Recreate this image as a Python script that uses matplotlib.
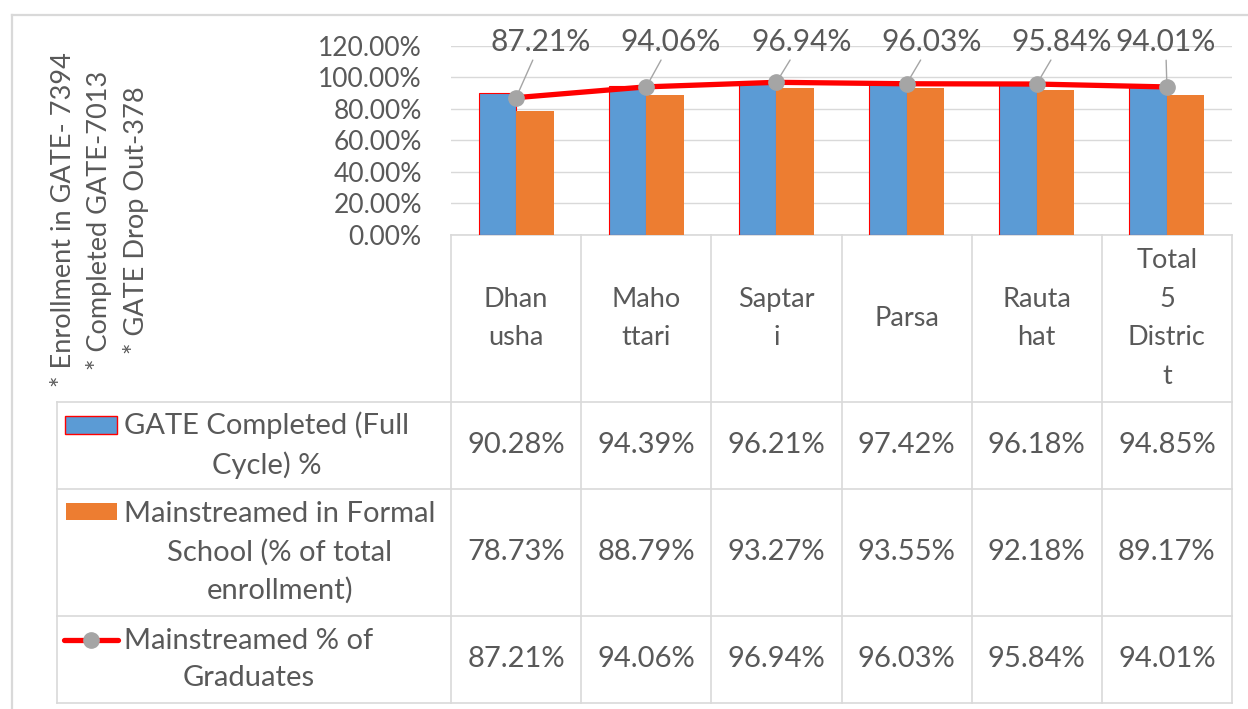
"""
GATE completion / mainstreaming chart with data table (Excel style).
"""
import numpy as np
import matplotlib.pyplot as plt
from matplotlib.transforms import blended_transform_factory
from matplotlib.patches import Rectangle
from matplotlib.lines import Line2D

# Data
districts = ['Dhan\nusha', 'Maho\nttari', 'Saptar\ni', 'Parsa', 'Rauta\nhat', 'Total\n5\nDistric\nt']
gate_completed = [90.28, 94.39, 96.21, 97.42, 96.18, 94.85]
mainstreamed_formal = [78.73, 88.79, 93.27, 93.55, 92.18, 89.17]
mainstreamed_grads = [87.21, 94.06, 96.94, 96.03, 95.84, 94.01]
series_names = ['GATE Completed (Full\nCycle) %',
                'Mainstreamed in Formal\nSchool (% of total\nenrollment)',
                'Mainstreamed % of\nGraduates']
side_notes = ['* Enrollment in GATE- 7394', '* Completed GATE-7013', '* GATE Drop Out-378']
y_ticks = [0, 20, 40, 60, 80, 100, 120]

BLUE, ORANGE, RED, GREY = '#5B9BD5', '#ED7D31', '#FF0000', '#A5A5A5'
TXT, GRID = '#595959', '#D9D9D9'

plt.rcParams['font.family'] = ['Lato', 'DejaVu Sans']

# layout in pixels
W, H = 1248, 709
TABLE_L, PLOT_L, PLOT_R = 57, 451, 1232
PLOT_TOP, PLOT_BOT = 46, 235
row_edges = [401.7, 488.7, 616, 702.7]

fig = plt.figure(figsize=(W / 100, H / 100), dpi=100)

# overlay axes in pixel coords for the table and frame
lay = fig.add_axes([0, 0, 1, 1])
lay.set_xlim(0, W)
lay.set_ylim(H, 0)
lay.axis('off')

ax = fig.add_axes([PLOT_L / W, 1 - PLOT_BOT / H, (PLOT_R - PLOT_L) / W, (PLOT_BOT - PLOT_TOP) / H])
ax.set_facecolor('none')

x = np.arange(len(districts))
bw = 0.288
ax.bar(x - bw / 2, gate_completed, bw, color=BLUE, edgecolor=RED, linewidth=0.8, zorder=2)
ax.bar(x + bw / 2, mainstreamed_formal, bw, color=ORANGE, linewidth=0, zorder=2)
ax.plot(x, mainstreamed_grads, color=RED, lw=3.8, marker='o', ms=11,
        mfc=GREY, mec=GREY, zorder=5, solid_capstyle='round')

ax.set_xlim(-0.5, len(districts) - 0.5)
ax.set_ylim(0, 120)
ax.set_yticks(y_ticks)
ax.set_yticklabels([f'{v:.2f}%' for v in y_ticks])
ax.tick_params(axis='y', length=0, pad=21, labelsize=19, labelcolor=TXT)
ax.set_xticks([])
ax.yaxis.grid(True, color=GRID, lw=1)
ax.set_axisbelow(True)
for s in ax.spines.values():
    s.set_visible(False)

# data labels with leader lines
for i, v in enumerate(mainstreamed_grads):
    dx = 0.19 if i < len(mainstreamed_grads) - 1 else -0.01
    ax.annotate(f'{v:.2f}%', xy=(i, v), xytext=(i + dx, 122.5), ha='center', va='center',
                fontsize=21.5, color=TXT, annotation_clip=False, zorder=4,
                arrowprops=dict(arrowstyle='-', color=GREY, lw=1, shrinkA=1, shrinkB=0))

# data table
bt = blended_transform_factory(ax.transData, lay.transData)
col_edges = np.arange(len(districts) + 1) - 0.5
for e in col_edges:
    lay.plot([e, e], [PLOT_BOT, row_edges[-1]], color=GRID, lw=1.2, transform=bt)
lay.plot([TABLE_L, TABLE_L], [row_edges[0], row_edges[-1]], color=GRID, lw=1.2)
lay.plot([PLOT_L, PLOT_R], [PLOT_BOT, PLOT_BOT], color=GRID, lw=1.2)
for y in row_edges:
    lay.plot([TABLE_L, PLOT_R], [y, y], color=GRID, lw=1.2)

for i, name in enumerate(districts):
    lay.text(i, (PLOT_BOT + row_edges[0]) / 2, name, transform=bt, ha='center', va='center',
             fontsize=19.5, color=TXT, linespacing=1.68)

rows = [gate_completed, mainstreamed_formal, mainstreamed_grads]
for r, vals in enumerate(rows):
    top, bot = row_edges[r], row_edges[r + 1]
    yc = (top + bot) / 2
    for i, v in enumerate(vals):
        lay.text(i, yc, f'{v:.2f}%', transform=bt, ha='center', va='center',
                 fontsize=21, color=TXT)
    lay.text(124, yc, series_names[r], ha='left', va='center', multialignment='center',
             fontsize=21, color=TXT, linespacing=1.52)

# legend keys
k0 = row_edges[0] + 23.5
lay.add_patch(Rectangle((65, k0 - 9), 52, 18, facecolor=BLUE, edgecolor=RED, lw=1))
k1 = row_edges[1] + 23.5
lay.add_patch(Rectangle((66, k1 - 9), 51, 17, facecolor=ORANGE, edgecolor='none'))
k2 = row_edges[2] + 23.5
lay.add_line(Line2D([64, 118], [k2, k2], color=RED, lw=3.8, solid_capstyle='round'))
lay.add_line(Line2D([91], [k2], marker='o', ms=11, mfc=GREY, mec=GREY))

# side notes
lay.text(100, 220, '\n'.join(side_notes), rotation=90, ha='center', va='center',
         multialignment='center', fontsize=19.5, color=TXT, linespacing=1.48)

# chart frame
lay.plot([12, 12], [15, H], color=GRID, lw=1.6)
lay.plot([12, W], [15, 15], color=GRID, lw=1.6)

plt.savefig('out.png', dpi=100)
